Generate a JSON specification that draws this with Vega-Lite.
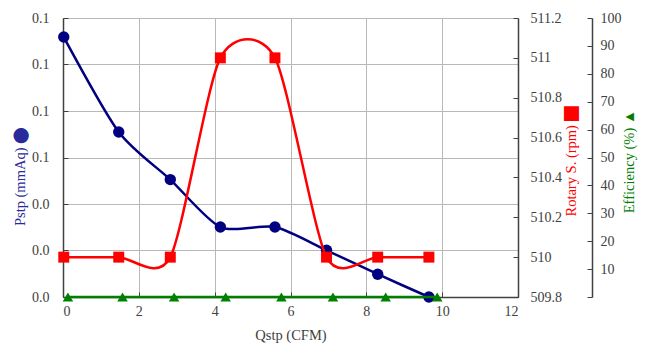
{
  "$schema": "https://vega.github.io/schema/vega-lite/v6.json",
  "autosize": {"type": "none"},
  "width": 455,
  "height": 279,
  "padding": {"left": 63, "top": 18, "right": 129, "bottom": 59},
  "background": "white",
  "config": {
    "font": "Liberation Serif",
    "view": {"stroke": null},
    "axis": {
      "labelFont": "Liberation Serif",
      "titleFont": "Liberation Serif",
      "labelFontSize": 14,
      "titleFontSize": 14.5,
      "titleFontWeight": "normal",
      "labelColor": "#404040",
      "domainColor": "#404040",
      "domainWidth": 1.5,
      "tickColor": "#404040",
      "gridColor": "#b8b8b8",
      "gridWidth": 1
    }
  },
  "datasets": {
    "main": [
      {"q": 0.02, "pstp": 0.1118, "rpm": 510.0},
      {"q": 1.47, "pstp": 0.0710, "rpm": 510.0},
      {"q": 2.83, "pstp": 0.0505, "rpm": 510.0},
      {"q": 4.15, "pstp": 0.0301, "rpm": 511.0},
      {"q": 5.59, "pstp": 0.0301, "rpm": 511.0},
      {"q": 6.95, "pstp": 0.0201, "rpm": 510.0},
      {"q": 8.30, "pstp": 0.0098, "rpm": 510.0},
      {"q": 9.65, "pstp": 0.0, "rpm": 510.0}
    ],
    "eff": [
      {"q": 0.13, "eff": 0},
      {"q": 1.57, "eff": 0},
      {"q": 2.93, "eff": 0},
      {"q": 4.29, "eff": 0},
      {"q": 5.76, "eff": 0},
      {"q": 7.12, "eff": 0},
      {"q": 8.51, "eff": 0},
      {"q": 9.87, "eff": 0}
    ]
  },
  "layer": [
    {
      "data": {"name": "main"},
      "mark": {
        "type": "line",
        "interpolate": "cardinal",
        "tension": 0.25,
        "color": "#000080",
        "strokeWidth": 2.5,
        "point": {"filled": true, "shape": "circle", "size": 130, "color": "#000080"}
      },
      "encoding": {
        "x": {
          "field": "q", "type": "quantitative",
          "scale": {"domain": [0, 12], "nice": false, "zero": false},
          "axis": {
            "values": [0, 2, 4, 6, 8, 10, 12],
            "title": "Qstp (CFM)",
            "titleColor": "#404040",
            "titlePadding": 10,
            "labelPadding": 12,
            "tickSize": -5,
            "grid": true
          }
        },
        "y": {
          "field": "pstp", "type": "quantitative",
          "scale": {"domain": [0, 0.12], "nice": false, "zero": false},
          "axis": {
            "orient": "left",
            "values": [0, 0.02, 0.04, 0.06, 0.08, 0.1, 0.12],
            "format": ".1f",
            "title": "Pstp (mmAq)\u00a0\u2b24",
            "titleColor": "#2a2a9a",
            "titleAngle": 270,
            "titleY": 158,
            "titlePadding": 4,
            "labelPadding": 19,
            "tickSize": -5,
            "grid": true
          }
        }
      }
    },
    {
      "data": {"name": "main"},
      "mark": {
        "type": "line",
        "interpolate": "cardinal",
        "tension": 0.25,
        "color": "#ff0000",
        "strokeWidth": 2.5,
        "point": {"filled": true, "shape": "square", "size": 120, "color": "#ff0000"}
      },
      "encoding": {
        "x": {"field": "q", "type": "quantitative"},
        "y": {
          "field": "rpm", "type": "quantitative",
          "scale": {"domain": [509.8, 511.2], "nice": false, "zero": false},
          "axis": {
            "orient": "right",
            "values": [509.8, 510, 510.2, 510.4, 510.6, 510.8, 511, 511.2],
            "format": ".1~f",
            "title": "Rotary S. (rpm)\u00a0\u2b1b\ufe0e",
            "titleColor": "#ff0000",
            "titleAngle": 270,
            "titleBaseline": "top",
            "titleY": 143,
            "titlePadding": 3,
            "labelPadding": 17,
            "tickSize": -5,
            "grid": false
          }
        }
      }
    },
    {
      "data": {"name": "eff"},
      "mark": {
        "type": "line",
        "color": "#008000",
        "strokeWidth": 2.5,
        "point": {"filled": true, "shape": "triangle-up", "size": 110, "color": "#008000"}
      },
      "encoding": {
        "x": {"field": "q", "type": "quantitative"},
        "y": {
          "field": "eff", "type": "quantitative",
          "scale": {"domain": [0, 100], "nice": false, "zero": false},
          "axis": {
            "orient": "right",
            "offset": 74,
            "values": [0, 10, 20, 30, 40, 50, 60, 70, 80, 90, 100],
            "labelExpr": "datum.value == 0 ? '' : datum.label",
            "title": "Efficiency (%)\u00a0\u25b2",
            "titleColor": "#008000",
            "titleAngle": 270,
            "titleBaseline": "top",
            "titleY": 143,
            "titlePadding": 1,
            "labelPadding": 13,
            "tickSize": -5,
            "grid": false
          }
        }
      }
    }
  ],
  "resolve": {"scale": {"y": "independent"}}
}
